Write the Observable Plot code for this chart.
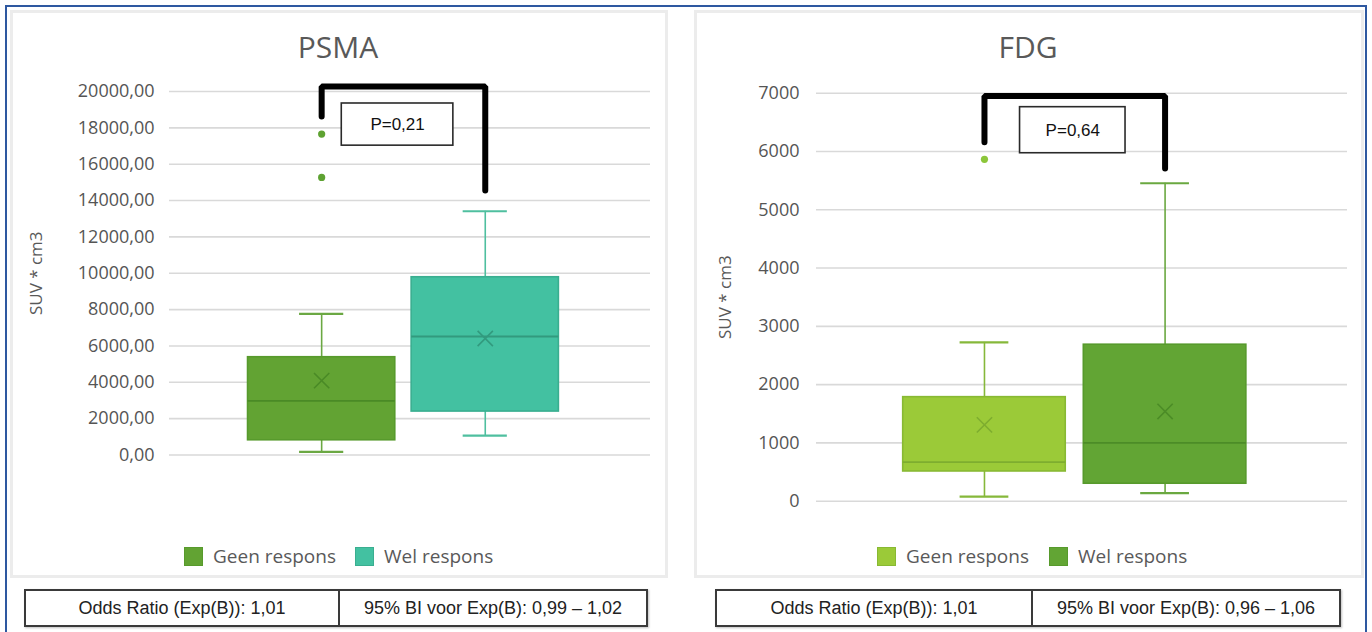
<!DOCTYPE html>
<html>
<head>
<meta charset="utf-8">
<script src="https://cdn.jsdelivr.net/npm/d3@7"></script>
<script src="https://cdn.jsdelivr.net/npm/@observablehq/plot@0.6"></script>
<style>
  html, body { margin: 0; padding: 0; background: #fff; }
  body { position: relative; width: 1372px; height: 632px; overflow: hidden; font-family: "Open Sans", sans-serif; }
  .frame { position: absolute; left: 5px; top: 5px; width: 1362px; height: 700px; box-sizing: border-box; border: 2px solid #2e58a0; }
  .card { position: absolute; top: 10px; height: 568px; box-sizing: border-box; border: 3px solid #ececec; background: #fff; }
  .chart { position: absolute; }
  .chart svg { overflow: visible; }
  .title { position: absolute; width: 200px; margin-left: -100px; text-align: center; font-size: 30px; color: #595959; line-height: 40px; }
  .legend { position: absolute; font-size: 19px; color: #595959; line-height: 20px; white-space: nowrap; }
  .legend span.sw { position: absolute; width: 19px; height: 19px; box-sizing: border-box; }
  .legend span.lb { position: absolute; top: -1px; }
  .stats { position: absolute; top: 589px; height: 38px; box-sizing: border-box; border: 2px solid #3a3a3a; box-shadow: 1px 1px 2px rgba(0,0,0,0.25); display: flex; font-family: "Liberation Sans", Arial, sans-serif; font-size: 18px; color: #222; }
  .stats div { display: flex; align-items: center; justify-content: center; height: 100%; }
  .stats div + div { border-left: 2px solid #3a3a3a; }
</style>
</head>
<body>
<div class="frame"></div>
<div class="card" style="left:10px;width:658px"></div>
<div class="card" style="left:694px;width:670px"></div>
<div id="psma" class="chart" style="left:12px;top:12px"></div>
<div id="fdg" class="chart" style="left:696px;top:12px"></div>
<div class="title" style="left:338px;top:27px">PSMA</div>
<div class="title" style="left:1028px;top:27px">FDG</div>
<div id="legend-psma" class="legend"></div>
<div id="legend-fdg" class="legend"></div>
<div id="stats-psma" class="stats" style="left:24px;width:624px"></div>
<div id="stats-fdg" class="stats" style="left:715px;width:626px"></div>
<script>
// Response groups
const groups = ["Geen respons", "Wel respons"];

// PSMA tumour volume (SUV * cm3): whisker ends, quartiles, median, mean
const psmaLow = [170, 1070];
const psmaQ1 = [810, 2390];
const psmaMedian = [2980, 6520];
const psmaQ3 = [5380, 9780];
const psmaHigh = [7770, 13410];
const psmaMean = [4090, 6410];
const psmaOutliers = [17660, 15270];
const psmaOutlierGroup = [0, 0];
const psmaTicks = [0, 2000, 4000, 6000, 8000, 10000, 12000, 14000, 16000, 18000, 20000];
const psmaP = "P=0,21";
const psmaStats = ["Odds Ratio (Exp(B)): 1,01", "95% BI voor Exp(B): 0,99 – 1,02"];

// FDG tumour volume (SUV * cm3)
const fdgLow = [80, 140];
const fdgQ1 = [510, 300];
const fdgMedian = [670, 1000];
const fdgQ3 = [1785, 2685];
const fdgHigh = [2725, 5455];
const fdgMean = [1310, 1540];
const fdgOutliers = [5865];
const fdgOutlierGroup = [0];
const fdgTicks = [0, 1000, 2000, 3000, 4000, 5000, 6000, 7000];
const fdgP = "P=0,64";
const fdgStats = ["Odds Ratio (Exp(B)): 1,01", "95% BI voor Exp(B): 0,96 – 1,06"];

const BOX_HALF = 0.45;
const CAP_HALF = 0.135;

function boxRows(low, q1, median, q3, high, mean, palette) {
  return groups.map((g, i) => ({
    group: g, pos: i + 1,
    low: low[i], q1: q1[i], median: median[i], q3: q3[i], high: high[i], mean: mean[i],
    ...palette[i]
  }));
}

function boxChart(cfg) {
  const rows = cfg.rows;
  const outliers = cfg.outliers.map((v, k) => ({pos: cfg.outlierGroup[k] + 1, value: v, color: rows[cfg.outlierGroup[k]].dot}));
  const b = cfg.bracket;
  const bracket = [
    {x: 1, y: b.left}, {x: 1, y: b.top}, {x: 2, y: b.top}, {x: 2, y: b.right}
  ];
  const pb = cfg.pbox;
  return Plot.plot({
    width: cfg.width,
    height: cfg.height,
    marginTop: cfg.marginTop,
    marginBottom: cfg.marginBottom,
    marginLeft: cfg.marginLeft,
    marginRight: cfg.marginRight,
    style: {background: "transparent", overflow: "visible"},
    x: {domain: [0.07, 3.01], axis: null},
    y: {domain: [0, cfg.ticks[cfg.ticks.length - 1]], axis: null},
    color: {type: "identity"},
    marks: [
      Plot.gridY(cfg.ticks, {stroke: "#d9d9d9", strokeOpacity: 1, strokeWidth: 1.6}),
      Plot.axisY(cfg.ticks, {
        tickSize: 0, tickPadding: cfg.tickPadding, label: null,
        tickFormat: cfg.tickFormat, fontSize: 18, fill: "#555",
        fontFamily: "Open Sans", letterSpacing: cfg.letterSpacing
      }),
      Plot.text(["SUV * cm3"], {
        frameAnchor: "left", textAnchor: "middle", lineAnchor: "middle",
        dx: cfg.labelDx, rotate: -90,
        fontSize: 17, fill: "#595959", fontFamily: "Open Sans"
      }),
      // whiskers
      Plot.ruleX(rows, {x: "pos", y1: "q3", y2: "high", stroke: "whisker", strokeWidth: 1.6}),
      Plot.ruleX(rows, {x: "pos", y1: "low", y2: "q1", stroke: "whisker", strokeWidth: 1.6}),
      Plot.ruleY(rows, {y: "high", x1: d => d.pos - CAP_HALF, x2: d => d.pos + CAP_HALF, stroke: "whisker", strokeWidth: 2.2}),
      Plot.ruleY(rows, {y: "low", x1: d => d.pos - CAP_HALF, x2: d => d.pos + CAP_HALF, stroke: "whisker", strokeWidth: 2.2}),
      // boxes
      Plot.rect(rows, {
        x1: d => d.pos - BOX_HALF, x2: d => d.pos + BOX_HALF, y1: "q1", y2: "q3",
        fill: "fill", stroke: "edge", strokeWidth: 1.6
      }),
      Plot.ruleY(rows, {y: "median", x1: d => d.pos - BOX_HALF, x2: d => d.pos + BOX_HALF, stroke: "dark", strokeWidth: 1.8}),
      Plot.dot(rows, {x: "pos", y: "mean", symbol: "times", r: 7, stroke: "dark", strokeWidth: 1.6}),
      // outliers
      Plot.dot(outliers, {x: "pos", y: "value", r: 3.6, fill: "color", stroke: null}),
      // significance bracket
      Plot.line(bracket, {x: "x", y: "y", stroke: "#000", strokeWidth: 6, strokeLinecap: "round", strokeLinejoin: "miter"}),
      Plot.rect([pb], {x1: "x1", x2: "x2", y1: "y1", y2: "y2", fill: "#fff", stroke: "#2a2a2a", strokeWidth: 1.6}),
      Plot.text([pb], {
        x: d => (d.x1 + d.x2) / 2, y: d => (d.y1 + d.y2) / 2, text: () => cfg.pLabel,
        fontSize: 17, fill: "#111", fontFamily: "Liberation Sans"
      })
    ]
  });
}

const psmaRows = boxRows(psmaLow, psmaQ1, psmaMedian, psmaQ3, psmaHigh, psmaMean, [
  {fill: "#62a333", edge: "#579a2c", dark: "#4a8a26", whisker: "#6ba843", dot: "#5ea232"},
  {fill: "#43c1a1", edge: "#3aae90", dark: "#329a7e", whisker: "#4fbf9f", dot: "#43c1a1"}
]);
const fdgRows = boxRows(fdgLow, fdgQ1, fdgMedian, fdgQ3, fdgHigh, fdgMean, [
  {fill: "#9bca38", edge: "#88b933", dark: "#7ead2f", whisker: "#86b83a", dot: "#8cc63a"},
  {fill: "#62a534", edge: "#579a2c", dark: "#4c8c27", whisker: "#6aa840", dot: "#5ea232"}
]);

const comma2 = d => d.toFixed(2).replace(".", ",");

document.getElementById("psma").append(boxChart({
  rows: psmaRows, outliers: psmaOutliers, outlierGroup: psmaOutlierGroup,
  ticks: psmaTicks, tickFormat: comma2, tickPadding: 15, letterSpacing: 0.9,
  width: 654, height: 480, marginTop: 79, marginBottom: 37.5, marginLeft: 157, marginRight: 16,
  labelDx: -133,
  bracket: {top: 20280, left: 18620, right: 14550},
  pbox: {x1: 1.123, x2: 1.805, y1: 17020, y2: 19340},
  pLabel: psmaP
}));

document.getElementById("fdg").append(boxChart({
  rows: fdgRows, outliers: fdgOutliers, outlierGroup: fdgOutlierGroup,
  ticks: fdgTicks, tickFormat: d => String(d), tickPadding: 17, letterSpacing: 1.4,
  width: 666, height: 520, marginTop: 80.7, marginBottom: 31.3, marginLeft: 120, marginRight: 15,
  labelDx: -91,
  bracket: {top: 6950, left: 6160, right: 5710},
  pbox: {x1: 1.197, x2: 1.781, y1: 5970, y2: 6760},
  pLabel: fdgP
}));

// Legends below each chart
function legend(id, rows, left, gap) {
  const el = document.getElementById(id);
  el.style.left = left + "px";
  el.style.top = "547px";
  let x = 0;
  rows.forEach((r, i) => {
    const sw = document.createElement("span");
    sw.className = "sw";
    sw.style.left = x + "px";
    sw.style.background = r.fill;
    sw.style.border = "1px solid " + r.edge;
    el.append(sw);
    const lb = document.createElement("span");
    lb.className = "lb";
    lb.style.left = (x + 29) + "px";
    lb.textContent = r.group;
    el.append(lb);
    x += gap[i];
  });
}
legend("legend-psma", psmaRows, 184, [171]);
legend("legend-fdg", fdgRows, 877, [172]);

// Odds ratio tables under each chart
function stats(id, cells, split) {
  const el = document.getElementById(id);
  cells.forEach((t, i) => {
    const c = document.createElement("div");
    c.style.width = i === 0 ? split + "px" : "auto";
    if (i > 0) c.style.flex = "1";
    c.textContent = t;
    el.append(c);
  });
}
stats("stats-psma", psmaStats, 312);
stats("stats-fdg", fdgStats, 314);
</script>
</body>
</html>
